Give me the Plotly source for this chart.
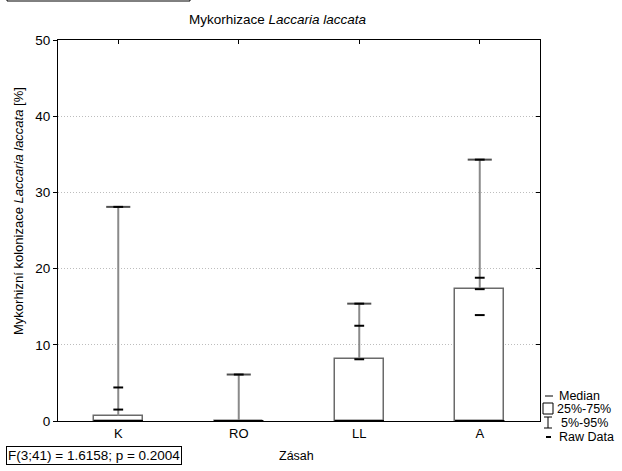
import plotly.graph_objects as go

categories = ["K", "RO", "LL", "A"]
q25 = [0.0, 0.0, 0.0, 0.0]
q75 = [0.7, 0.0, 8.1, 17.3]
p05 = [0.0, 0.0, 0.0, 0.0]
p95 = [28.1, 6.1, 15.4, 34.3]
median = [0.0, 0.0, 0.0, 0.0]
raw_data = [
    [0.0, 1.5, 4.4, 28.1],
    [0.0, 6.1],
    [0.0, 8.1, 12.5, 15.4],
    [0.0, 13.9, 17.3, 18.8, 34.3],
]
y_ticks = [0, 10, 20, 30, 40, 50]

FONT = "Liberation Sans, Arial, sans-serif"
BOX_W = 0.41
CAP_W = 0.2

xs = list(range(len(categories)))
fig = go.Figure()

# boxes (25%-75%)
fig.add_trace(go.Bar(
    x=xs, y=[b - a for a, b in zip(q25, q75)], base=q25, width=BOX_W,
    marker=dict(color="white", line=dict(color="#6a6a6a", width=1.5)),
    hoverinfo="skip", showlegend=False,
))

# whisker stems
wx, wy = [], []
for i in xs:
    wx += [i, i, None]
    wy += [q75[i], p95[i], None]
fig.add_trace(go.Scatter(x=wx, y=wy, mode="lines",
                         line=dict(color="#8a8a8a", width=2),
                         hoverinfo="skip", showlegend=False))

# whisker caps
cx, cy = [], []
for i in xs:
    cx += [i - CAP_W / 2, i + CAP_W / 2, None]
    cy += [p95[i], p95[i], None]
fig.add_trace(go.Scatter(x=cx, y=cy, mode="lines",
                         line=dict(color="#505050", width=2),
                         hoverinfo="skip", showlegend=False))

# medians
mx, my = [], []
for i in xs:
    mx += [i - BOX_W / 2, i + BOX_W / 2, None]
    my += [median[i], median[i], None]
fig.add_trace(go.Scatter(x=mx, y=my, mode="lines",
                         line=dict(color="black", width=2),
                         hoverinfo="skip", showlegend=False))

# raw data
rx, ry = [], []
for i in xs:
    for v in raw_data[i]:
        rx.append(i)
        ry.append(v)
fig.add_trace(go.Scatter(x=rx, y=ry, mode="markers",
                         marker=dict(symbol="line-ew", size=7,
                                     line=dict(color="black", width=2)),
                         hoverinfo="skip", showlegend=False))

# dummy trace for overlay axes (top/right inside ticks)
fig.add_trace(go.Scatter(x=[0], y=[0], xaxis="x2", yaxis="y2", mode="markers",
                         marker=dict(opacity=0), hoverinfo="skip", showlegend=False))

W, H = 622, 471
L, R, T, B = 58, 540, 40, 421


def px(x):
    return (x - L) / (R - L)


def py(y):
    return (B - y) / (B - T)


fig.update_layout(
    width=W, height=H,
    margin=dict(l=L, r=W - R, t=T, b=H - B),
    paper_bgcolor="white", plot_bgcolor="white",
    font=dict(family=FONT, size=13, color="black"),
    showlegend=False, bargap=0,
    xaxis=dict(
        range=[-0.5, 3.5], tickmode="array", tickvals=xs, ticktext=categories,
        showgrid=False, zeroline=False, showline=True, linecolor="black",
        linewidth=1, mirror=True, ticks="", tickfont=dict(size=13),
    ),
    yaxis=dict(
        range=[0, 50], tickmode="array", tickvals=y_ticks,
        showgrid=True, gridcolor="#bdbdbd", griddash="1px,2px", gridwidth=1,
        zeroline=False, showline=True, linecolor="black", linewidth=1,
        mirror=True, ticks="outside", ticklen=4, tickcolor="black",
        tickfont=dict(size=13.5),
    ),
    xaxis2=dict(
        overlaying="x", side="top", anchor="y", range=[-0.5, 3.5],
        tickmode="array", tickvals=xs, ticks="inside", ticklen=4,
        tickcolor="black", showticklabels=False, showgrid=False,
        zeroline=False, showline=False,
    ),
    yaxis2=dict(
        overlaying="y", side="right", anchor="x", range=[0, 50],
        tickmode="array", tickvals=y_ticks, ticks="inside", ticklen=4,
        tickcolor="black", showticklabels=False, showgrid=False,
        zeroline=False, showline=False,
    ),
)

annotations = [
    dict(text="Mykorhizace <i>Laccaria laccata</i>", x=px(278), y=py(20),
         xref="paper", yref="paper", showarrow=False, font=dict(size=13.5),
         xanchor="center", yanchor="middle"),
    dict(text="Mykorhizní kolonizace <i>Laccaria laccata</i> [%]", x=px(18), y=py(211),
         xref="paper", yref="paper", showarrow=False, font=dict(size=13),
         textangle=-90, xanchor="center", yanchor="middle"),
    dict(text="Zásah", x=px(296), y=py(456), xref="paper", yref="paper",
         showarrow=False, font=dict(size=12.5), xanchor="center", yanchor="middle"),
    dict(text="F(3;41) = 1.6158; p = 0.2004", x=px(6), y=py(455.5),
         xref="paper", yref="paper", showarrow=False, font=dict(size=13.5),
         xanchor="left", yanchor="middle", bordercolor="black", borderwidth=1,
         borderpad=1),
    dict(text="Median", x=px(557), y=py(396), xref="paper", yref="paper",
         showarrow=False, font=dict(size=12.5), xanchor="left", yanchor="middle"),
    dict(text="25%-75%", x=px(555), y=py(409), xref="paper", yref="paper",
         showarrow=False, font=dict(size=12.5), xanchor="left", yanchor="middle"),
    dict(text="5%-95%", x=px(559), y=py(423), xref="paper", yref="paper",
         showarrow=False, font=dict(size=12.5), xanchor="left", yanchor="middle"),
    dict(text="Raw Data", x=px(557), y=py(437), xref="paper", yref="paper",
         showarrow=False, font=dict(size=12.5), xanchor="left", yanchor="middle"),
]
fig.update_layout(annotations=annotations)

shapes = [
    # clipped box at top-left
    dict(type="rect", xref="paper", yref="paper", x0=px(7), x1=px(190),
         y0=py(1), y1=py(-20), line=dict(color="black", width=1)),
    # legend: median
    dict(type="line", xref="paper", yref="paper", x0=px(545), x1=px(553),
         y0=py(396), y1=py(396), line=dict(color="black", width=1)),
    # legend: box
    dict(type="rect", xref="paper", yref="paper", x0=px(543), x1=px(553),
         y0=py(414), y1=py(403), line=dict(color="black", width=1)),
    # legend: whisker
    dict(type="line", xref="paper", yref="paper", x0=px(548), x1=px(548),
         y0=py(428), y1=py(417), line=dict(color="black", width=1)),
    dict(type="line", xref="paper", yref="paper", x0=px(544), x1=px(552),
         y0=py(417), y1=py(417), line=dict(color="black", width=1)),
    dict(type="line", xref="paper", yref="paper", x0=px(544), x1=px(552),
         y0=py(428), y1=py(428), line=dict(color="black", width=1)),
    # legend: raw
    dict(type="line", xref="paper", yref="paper", x0=px(546), x1=px(551),
         y0=py(437), y1=py(437), line=dict(color="black", width=2)),
]
fig.update_layout(shapes=shapes)

fig.write_html("out.html", config={"displayModeBar": False},
               post_script="document.body.style.margin='0px';document.body.style.padding='0px';")
